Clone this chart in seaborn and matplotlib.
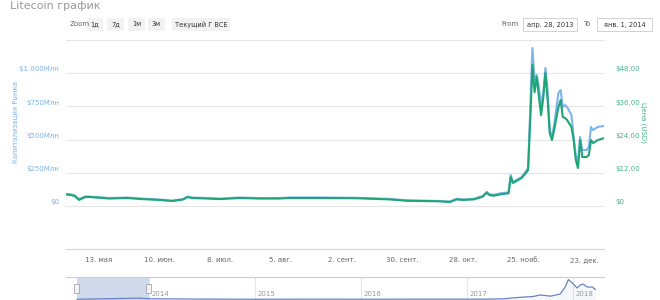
import matplotlib
matplotlib.use("Agg")
import matplotlib.pyplot as plt
from matplotlib.patches import Rectangle
from matplotlib.transforms import ScaledTranslation
import seaborn as sns
import pandas as pd

# ---------------- data ----------------
dates = ["2013-04-28", "2013-04-30", "2013-05-02", "2013-05-04", "2013-05-07", "2013-05-09",
         "2013-05-15", "2013-05-18", "2013-05-26", "2013-06-02", "2013-06-10", "2013-06-16",
         "2013-06-21", "2013-06-23", "2013-06-25", "2013-07-02", "2013-07-08", "2013-07-17",
         "2013-07-26", "2013-08-04", "2013-08-09", "2013-08-13", "2013-08-24", "2013-09-09",
         "2013-09-24", "2013-10-02", "2013-10-09", "2013-10-17", "2013-10-22", "2013-10-25",
         "2013-10-28", "2013-11-02", "2013-11-06", "2013-11-08", "2013-11-09", "2013-11-11",
         "2013-11-15", "2013-11-18", "2013-11-19", "2013-11-20", "2013-11-24", "2013-11-26",
         "2013-11-27", "2013-11-28", "2013-11-29", "2013-11-30", "2013-12-01", "2013-12-02",
         "2013-12-03", "2013-12-04", "2013-12-05", "2013-12-06", "2013-12-07", "2013-12-08",
         "2013-12-09", "2013-12-11", "2013-12-12", "2013-12-13", "2013-12-14", "2013-12-15",
         "2013-12-17", "2013-12-18", "2013-12-19", "2013-12-20", "2013-12-21", "2013-12-22",
         "2013-12-24", "2013-12-25", "2013-12-26", "2013-12-27", "2013-12-29", "2014-01-01"]
price_usd = [4.2, 4.0, 3.6, 2.2, 3.25, 3.25,
             2.9, 2.7, 2.9, 2.5, 2.2, 1.8,
             2.35, 3.25, 2.9, 2.7, 2.5, 2.9,
             2.7, 2.7, 2.9, 2.9, 2.9, 2.8,
             2.4, 1.9, 1.8, 1.7, 1.45, 2.4,
             2.2, 2.4, 3.35, 4.8, 4.0, 3.7,
             4.3, 4.6, 10.5, 8.3, 10.1, 11.9,
             13.0, 31.0, 50.9, 41.1, 46.6, 39.3,
             32.8, 39.0, 48.0, 38.3, 26.3, 23.8,
             27.4, 35.7, 38.3, 32.1, 31.8, 31.0,
             28.5, 23.8, 16.6, 13.7, 23.8, 17.7,
             17.7, 18.4, 23.8, 22.7, 23.8, 24.5]
market_cap_mln = [90, 88, 80, 53, 73, 71,
                  64, 60, 64, 56, 49, 41,
                  53, 71, 64, 60, 56, 64,
                  60, 60, 64, 64, 64, 62,
                  54, 43, 41, 38, 34, 54,
                  49, 54, 75, 108, 90, 85,
                  98, 102, 233, 180, 218, 263,
                  286, 722, 1188, 947, 985, 895,
                  759, 850, 1038, 872, 571, 519,
                  609, 850, 872, 744, 759, 744,
                  684, 519, 383, 323, 519, 421,
                  421, 444, 594, 571, 594, 602]

x_tick_dates = ["2013-05-13", "2013-06-10", "2013-07-08", "2013-08-05", "2013-09-02",
                "2013-09-30", "2013-10-28", "2013-11-25", "2013-12-23"]
x_tick_labels = ["13. мая", "10. июн.", "8. июл.", "5. авг.", "2. сент.",
                 "30. сент.", "28. окт.", "25. нояб.", "23. дек."]
cap_ticks = [0, 250, 500, 750, 1000]
cap_tick_labels = ["$0", "$250Млн", "$500Млн", "$750Млн", "$1 000Млн"]
price_ticks = [0, 12, 24, 36, 48]
price_tick_labels = ["$0", "$12,00", "$24,00", "$36,00", "$48,00"]

nav_dates = ["2013-04-28", "2013-11-29", "2014-01-01", "2014-06-01", "2015-01-01", "2015-07-10",
             "2016-01-01", "2016-07-01", "2017-01-01", "2017-03-01", "2017-05-05", "2017-06-22",
             "2017-08-16", "2017-09-09", "2017-10-15", "2017-11-17", "2017-12-04", "2017-12-15",
             "2017-12-29", "2018-01-14", "2018-01-25", "2018-02-04", "2018-02-18", "2018-03-08",
             "2018-03-18"]
nav_cap_bln = [0.07, 1.2, 0.6, 0.3, 0.1, 0.2,
               0.15, 0.2, 0.2, 0.2, 0.5, 1.7,
               2.7, 4.1, 3.0, 5.0, 11.5, 18.5,
               15.3, 10.6, 13.4, 14.3, 11.5, 11.5,
               9.1]
nav_year_dates = ["2014-01-01", "2015-01-01", "2016-01-01", "2017-01-01", "2018-01-01"]
nav_year_labels = ["2014", "2015", "2016", "2017", "2018"]

zoom_buttons = ["1д", "7д", "1м", "3м", "Текущий Г ВСЕ"]
range_from = "апр. 28, 2013"
range_to = "янв. 1, 2014"
title_text = "Litecoin график"
cap_title = "Капитализация Рынка"
price_title = "Цена (USD)"

# ---------------- styling ----------------
sns.set_theme(style="white")
plt.rcParams["font.family"] = ["DejaVu Sans"]

BLUE = "#7cb5ec"
GREEN = "#1fa577"
GREEN_TXT = "#45b48a"
GRID = "#e6e6e6"
AXIS = "#ccd6eb"
TXT = "#666666"

W, H = 660, 300
fig = plt.figure(figsize=(W / 100, H / 100), dpi=100)
fig.patch.set_facecolor("white")


def fx(px):
    return px / W


def fy(py):
    return 1 - py / H


def box(x0, y0, x1, y1, fc, ec="none", lw=0.6):
    fig.patches.append(Rectangle((fx(x0), fy(y1)), (x1 - x0) / W, (y1 - y0) / H,
                                 transform=fig.transFigure, facecolor=fc,
                                 edgecolor=ec, linewidth=lw, zorder=1))


df = pd.DataFrame({"date": pd.to_datetime(dates), "price": price_usd, "cap": market_cap_mln})

# main axes
PL, PR, PT, PB = 66, 604, 39.75, 249
ax = fig.add_axes([fx(PL), fy(PB), (PR - PL) / W, (PB - PT) / H])
ax.set_facecolor("none")
sns.lineplot(data=df, x="date", y="cap", ax=ax, color=BLUE, linewidth=1.5)
ax2 = ax.twinx()
sns.lineplot(data=df, x="date", y="price", ax=ax2, color=GREEN, linewidth=1.5)

ax.set_xlim(pd.Timestamp("2013-04-28"), pd.Timestamp("2014-01-01"))
ax.set_ylim(-323, 1250)
ax2.set_ylim(-323 * 0.048, 1250 * 0.048)

for a in (ax, ax2):
    for s in a.spines.values():
        s.set_visible(False)
    a.set_xlabel("")
    a.set_ylabel("")

ax.spines["bottom"].set_visible(True)
ax.spines["bottom"].set_color(AXIS)
ax.spines["bottom"].set_linewidth(0.8)
ax.spines["top"].set_visible(True)
ax.spines["top"].set_color(GRID)
ax.spines["top"].set_linewidth(0.8)

ax.set_xticks(pd.to_datetime(x_tick_dates))
ax.set_xticklabels(x_tick_labels)
ax.tick_params(axis="x", length=4, width=0.6, color=AXIS, labelsize=5, labelcolor=TXT, pad=2)

ax.set_yticks(cap_ticks)
ax.set_yticklabels(cap_tick_labels)
ax.tick_params(axis="y", length=0, labelsize=5, labelcolor=BLUE, pad=5)
ax.grid(axis="y", color=GRID, linewidth=0.8)
ax.grid(axis="x", visible=False)

ax2.set_yticks(price_ticks)
ax2.set_yticklabels(price_tick_labels)
ax2.tick_params(axis="y", length=0, labelsize=5, labelcolor=GREEN_TXT, pad=8)
ax2.grid(False)

shift = ScaledTranslation(0, 3 / 72, fig.dpi_scale_trans)
for lab in ax.get_yticklabels() + ax2.get_yticklabels():
    lab.set_transform(lab.get_transform() + shift)

ax.set_zorder(1)
ax2.set_zorder(2)

fig.text(fx(15), fy(122), cap_title, rotation=90, color=BLUE, fontsize=5,
         ha="center", va="center")
fig.text(fx(643), fy(122), price_title, rotation=270, color=GREEN_TXT, fontsize=5,
         ha="center", va="center")

# title (at the very top edge)
fig.text(fx(10), fy(1), title_text, fontsize=8, color="#999999", ha="left", va="top")

# zoom buttons
fig.text(fx(70), fy(24.5), "Zoom", fontsize=5, color=TXT, ha="left", va="center")
btn_x = [(87, 103), (107, 124), (128, 145), (148, 165), (172, 230)]
for (x0, x1), lab in zip(btn_x, zoom_buttons):
    box(x0, 18, x1, 31, "#f2f2f2")
    fig.text(fx((x0 + x1) / 2), fy(24.5), lab, fontsize=4.8, color="#333333",
             ha="center", va="center")

# date range inputs
fig.text(fx(501), fy(24.5), "From", fontsize=5, color=TXT, ha="left", va="center")
box(523, 18, 577, 31, "white", ec="#cccccc")
fig.text(fx(550), fy(24.5), range_from, fontsize=4.8, color="#333333", ha="center", va="center")
fig.text(fx(583), fy(24.5), "To", fontsize=5, color=TXT, ha="left", va="center")
box(597, 18, 652, 31, "white", ec="#cccccc")
fig.text(fx(624.5), fy(24.5), range_to, fontsize=4.8, color="#333333", ha="center", va="center")

# navigator
nav = fig.add_axes([fx(PL), fy(300), (PR - PL) / W, (300 - 277) / H])
nav.set_facecolor("none")
ndf = pd.DataFrame({"date": pd.to_datetime(nav_dates), "cap": nav_cap_bln})
d0 = pd.Timestamp("2014-01-01")
px_per_day = 106 / 365.0
nav.set_xlim(d0 - pd.Timedelta(days=(149 - PL) / px_per_day),
             d0 + pd.Timedelta(days=(PR - 149) / px_per_day))
nav.set_ylim(-0.6, 20.9)
nav.axvspan(pd.Timestamp("2013-04-28"), pd.Timestamp("2014-01-01"), color="#ccd6eb", alpha=0.9, lw=0)
sns.lineplot(data=ndf, x="date", y="cap", ax=nav, color="#6685c2", linewidth=0.9)
nav.fill_between(ndf["date"], ndf["cap"], -0.6, color="#6685c2", alpha=0.06, lw=0)
for s in nav.spines.values():
    s.set_visible(False)
nav.spines["top"].set_visible(True)
nav.spines["top"].set_color("#cccccc")
nav.spines["top"].set_linewidth(0.8)
nav.set_xticks([])
nav.set_yticks([])
nav.set_xlabel("")
nav.set_ylabel("")
for d, lab in zip(pd.to_datetime(nav_year_dates), nav_year_labels):
    nav.axvline(d, color="#e6e6e6", lw=0.8, zorder=0)
    nav.annotate(lab, xy=(d, 0), xycoords=("data", "axes fraction"), xytext=(1.5, 2),
                 textcoords="offset points", fontsize=5, color="#999999", ha="left", va="bottom")
# handles
for hx in (76, 148):
    box(hx - 2.5, 284, hx + 2.5, 293, "#f2f2f2", ec="#999999", lw=0.5)

fig.savefig("out.png", dpi=100, facecolor="white")
